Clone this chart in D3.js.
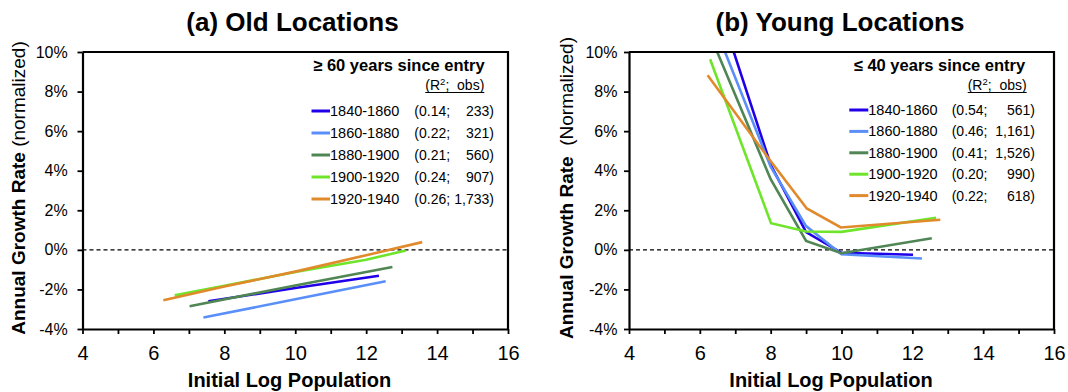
<!DOCTYPE html>
<html>
<head>
<meta charset="utf-8">
<script src="https://cdn.jsdelivr.net/npm/d3@7"></script>
<style>
  body { margin: 0; background: #fff; }
  text { font-family: Arial, "Liberation Sans", sans-serif; fill: #000; }
</style>
</head>
<body>
<script>
// chart values
const periods = ['1840-1860', '1860-1880', '1880-1900', '1900-1920', '1920-1940']
const colors = ['#2000e8', '#5a8ef8', '#4f8654', '#6ee52a', '#e08a2c']

const r2Old = ['0.14', '0.22', '0.21', '0.24', '0.26']
const obsOld = ['233', '321', '560', '907', '1,733']
const r2Young = ['0.54', '0.46', '0.41', '0.20', '0.22']
const obsYoung = ['561', '1,161', '1,526', '990', '618']

// old locations: [log population, growth %]
const old1840 = [[7.55, -2.6], [10, -1.93], [12.36, -1.31]]
const old1860 = [[7.41, -3.42], [10, -2.5], [12.55, -1.59]]
const old1880 = [[7.02, -2.85], [10, -1.8], [12.74, -0.87]]
const old1900 = [[6.6, -2.3], [8, -1.82], [10, -1.12], [12, -0.5], [13.12, -0.03]]
const old1920 = [[6.28, -2.55], [8, -1.85], [10, -1.1], [12, -0.27], [13.58, 0.39]]

// young locations
const young1840 = [[6.5, 12.5], [8, 4.3], [9, 0.9], [10, -0.15], [12.02, -0.25]]
const young1860 = [[6.4, 11.4], [8, 4.2], [9, 1.2], [10, -0.22], [12.27, -0.44]]
const young1880 = [[6.35, 10.6], [8, 3.57], [9, 0.45], [10, -0.17], [12.55, 0.59]]
const young1900 = [[6.29, 9.63], [8.01, 1.35], [9, 0.93], [10, 0.91], [12.67, 1.62]]
const young1920 = [[6.22, 8.82], [8.03, 4.41], [9.02, 2.09], [9.98, 1.13], [12.79, 1.52]]

const xTicks = [4, 6, 8, 10, 12, 14, 16]
const xMinor = d3.range(4, 17, 1)
const yTicks = [-4, -2, 0, 2, 4, 6, 8, 10]

const width = 1068, height = 392
const plotTop = 52, plotBottom = 329

const svg = d3.select('body').append('svg')
    .attr('width', width)
    .attr('height', height)

const panels = [
  {
    x0: 82.5, x1: 508, title: '(a) Old Locations', titleX: 292.5,
    yLabelX: 24.5, yBold: 'Annual Growth Rate ', yNormal: '(normalized)',
    xLabelX: 289.5, tickPad: 9.8,
    legTitle: '\u2265 60 years since entry', legTitleX: 399,
    legLine: [311.5, 330], r2X: 414.3, obsEnd: 494, hdrEnd: 484.3,
    rowY: 111, rowStep: 22,
    r2: r2Old, obs: obsOld,
    series: [old1840, old1860, old1880, old1900, old1920]
  },
  {
    x0: 629, x1: 1054, title: '(b) Young Locations', titleX: 840,
    yLabelX: 573, yBold: 'Annual Growth Rate ', yNormal: ' (Normalized)',
    xLabelX: 831, tickPad: 6.6,
    legTitle: '\u2264 40 years since entry', legTitleX: 939.5,
    legLine: [849.3, 868.3], r2X: 951.7, obsEnd: 1035, hdrEnd: 1026.7,
    rowY: 110, rowStep: 21.4,
    r2: r2Young, obs: obsYoung,
    series: [young1840, young1860, young1880, young1900, young1920]
  }
]

panels.forEach((p, pi) => {
  const xScale = d3.scaleLinear().domain([4, 16]).range([p.x0, p.x1])
  const yScale = d3.scaleLinear().domain([-4, 10]).range([plotBottom, plotTop])

  // title
  svg.append('text')
    .attr('x', p.titleX)
    .attr('y', 30.5)
    .attr('text-anchor', 'middle')
    .attr('font-size', '26px')
    .attr('font-weight', 'bold')
    .text(p.title)

  // clip for lines that run out of the top
  svg.append('clipPath')
      .attr('id', 'clip' + pi)
    .append('rect')
      .attr('x', p.x0)
      .attr('y', plotTop)
      .attr('width', p.x1 - p.x0)
      .attr('height', plotBottom - plotTop)

  // zero line
  svg.append('line')
    .attr('x1', p.x0).attr('x2', p.x1)
    .attr('y1', yScale(0)).attr('y2', yScale(0))
    .attr('stroke', '#000')
    .attr('stroke-width', 1.3)
    .attr('stroke-dasharray', '4,3')

  // series lines
  const line = d3.line()
    .x(d => xScale(d[0]))
    .y(d => yScale(d[1]))

  svg.append('g')
      .attr('clip-path', 'url(#clip' + pi + ')')
    .selectAll('path')
    .data(p.series)
    .enter()
    .append('path')
      .attr('d', d => line(d))
      .attr('fill', 'none')
      .attr('stroke', (d, i) => colors[i])
      .attr('stroke-width', 2.6)

  // border on top and right
  svg.append('path')
    .attr('d', `M${p.x0},${plotTop}H${p.x1}V${plotBottom}`)
    .attr('fill', 'none')
    .attr('stroke', '#000')
    .attr('stroke-width', 2.2)

  // x axis: ticks every unit, labels every 2
  const xAxis = svg.append('g')
    .attr('transform', 'translate(0,' + plotBottom + ')')
    .call(d3.axisBottom(xScale).tickValues(xMinor).tickSize(5).tickSizeOuter(0)
      .tickFormat(d => xTicks.includes(d) ? d : ''))
  xAxis.select('.domain').attr('stroke-width', 2.2)
  xAxis.selectAll('.tick line').attr('stroke-width', 1.8)
  xAxis.selectAll('.tick text')
    .attr('y', 31)
    .attr('dy', null)
    .attr('font-size', '20px')
    .attr('font-family', 'Arial, "Liberation Sans", sans-serif')
    .attr('fill', '#000')

  // y axis
  const yAxis = svg.append('g')
    .attr('transform', 'translate(' + p.x0 + ',0)')
    .call(d3.axisLeft(yScale).tickValues(yTicks).tickSize(5).tickSizeOuter(0)
      .tickPadding(p.tickPad).tickFormat(d => d + '%'))
  yAxis.select('.domain').attr('stroke-width', 2.2)
  yAxis.selectAll('.tick line').attr('stroke-width', 1.8)
  yAxis.selectAll('.tick text')
    .attr('font-size', '16px')
    .attr('font-family', 'Arial, "Liberation Sans", sans-serif')
    .attr('fill', '#000')

  // axis labels
  svg.append('text')
    .attr('x', p.xLabelX)
    .attr('y', 387)
    .attr('text-anchor', 'middle')
    .attr('font-size', '20px')
    .attr('font-weight', 'bold')
    .text('Initial Log Population')

  const yl = svg.append('text')
    .attr('transform', 'translate(' + p.yLabelX + ',188) rotate(-90)')
    .attr('text-anchor', 'middle')
    .attr('font-size', '19px')
    .style('white-space', 'pre')
  yl.append('tspan').attr('font-weight', 'bold').text(p.yBold)
  yl.append('tspan').text(p.yNormal)

  // legend
  svg.append('text')
    .attr('x', p.legTitleX)
    .attr('y', 70.7)
    .attr('text-anchor', 'middle')
    .attr('font-size', '16.5px')
    .attr('font-weight', 'bold')
    .text(p.legTitle)

  const hdr = svg.append('text')
    .attr('x', p.hdrEnd)
    .attr('y', 90)
    .attr('text-anchor', 'end')
    .attr('font-size', '14px')
    .style('white-space', 'pre')
  hdr.append('tspan').text('(R')
  hdr.append('tspan').attr('font-size', '9.5px').attr('dy', -5).text('2')
  hdr.append('tspan').attr('dy', 5).text(';  obs)')
  // underline drawn as one line so it is not broken by the superscript
  const hdrLen = hdr.node().getComputedTextLength()
  svg.append('line')
    .attr('x1', p.hdrEnd - hdrLen).attr('x2', p.hdrEnd)
    .attr('y1', 92.5).attr('y2', 92.5)
    .attr('stroke', '#000')
    .attr('stroke-width', 1)

  const rows = svg.append('g').selectAll('g')
    .data(periods)
    .enter()
    .append('g')
      .attr('transform', (d, i) => 'translate(0,' + (p.rowY + i * p.rowStep) + ')')

  rows.append('line')
    .attr('x1', p.legLine[0]).attr('x2', p.legLine[1])
    .attr('stroke', (d, i) => colors[i])
    .attr('stroke-width', 3)
  rows.append('text')
    .attr('x', p.legLine[1])
    .attr('y', 5)
    .attr('font-size', '14.5px')
    .text(d => d)
  rows.append('text')
    .attr('x', p.r2X)
    .attr('y', 5)
    .attr('font-size', '14px')
    .text((d, i) => '(' + p.r2[i] + ';')
  rows.append('text')
    .attr('x', p.obsEnd)
    .attr('y', 5)
    .attr('text-anchor', 'end')
    .attr('font-size', '14px')
    .text((d, i) => p.obs[i] + ')')
})
</script>
</body>
</html>
